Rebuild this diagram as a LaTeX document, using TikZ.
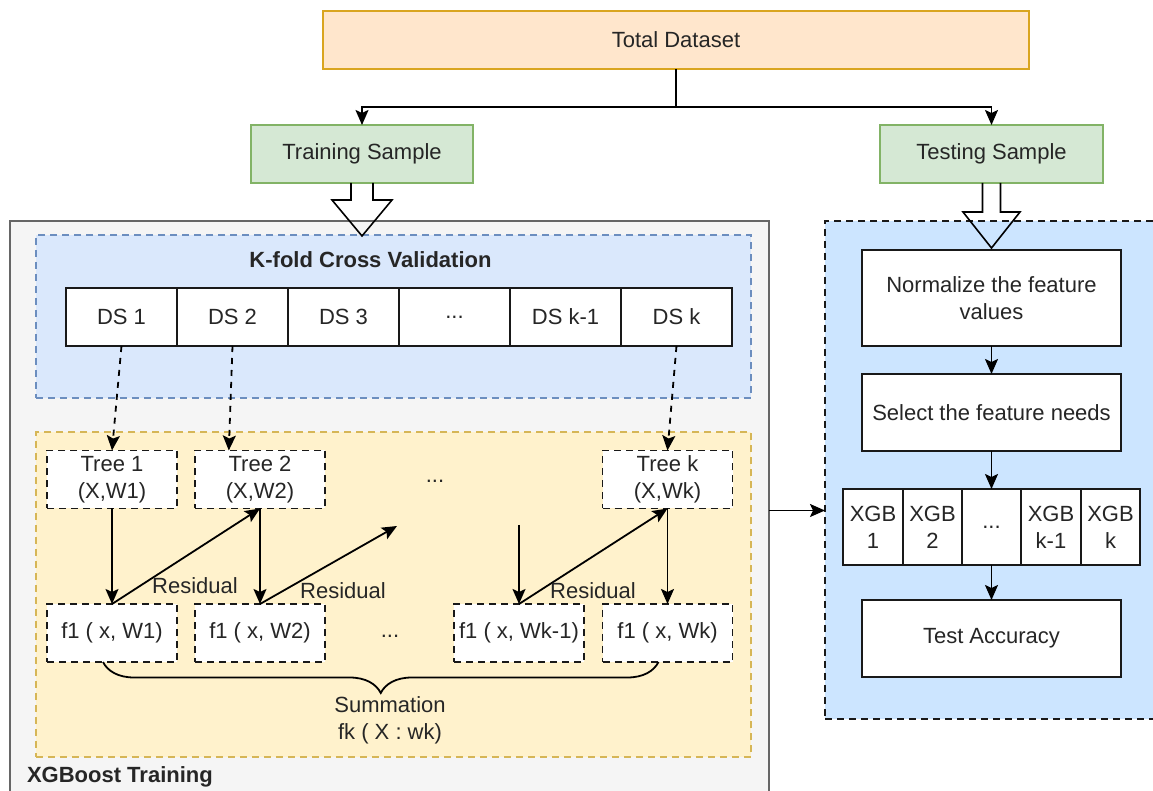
\documentclass[tikz,border=0pt]{standalone}
\usepackage{fontspec}
\setmainfont{Liberation Sans}
\usepackage{xcolor}
\usetikzlibrary{positioning,calc,arrows.meta,decorations.pathreplacing}

\definecolor{peachfill}{HTML}{FFE6CC}
\definecolor{peachline}{HTML}{D9A520}
\definecolor{greenfill}{HTML}{D5E8D4}
\definecolor{greenline}{HTML}{82B366}
\definecolor{grayfill}{HTML}{F5F5F5}
\definecolor{grayline}{HTML}{666666}
\definecolor{bluefill}{HTML}{DAE8FC}
\definecolor{blueline}{HTML}{6C8EBF}
\definecolor{yellowfill}{HTML}{FFF2CC}
\definecolor{yellowline}{HTML}{D6B656}
\definecolor{testfill}{HTML}{CCE5FF}

\begin{document}
\begin{tikzpicture}[x=0.5pt,y=-0.5pt,
  every node/.style={font=\fontsize{11}{13.5}\selectfont, text=black!85, align=center, inner sep=0pt, outer sep=0pt},
  boldlabel/.style={font=\fontsize{11}{13.5}\selectfont\bfseries},
  dashbox/.style={dash pattern=on 3.5pt off 2.5pt, line width=0.8pt},
  cell/.style={draw=black!90, fill=white, line width=0.9pt},
  treebox/.style={cell, dashbox, minimum width=65pt, minimum height=29pt},
  arr/.style={-{Stealth[length=7.5pt,width=6.5pt,inset=1.5pt]}, line width=0.9pt, black},
  hollow/.style={line width=0.8pt, black, line join=miter}]
  \useasboundingbox (0,0) rectangle (1153,791);

  % Containers
  \node[fill=grayfill, draw=grayline, line width=0.8pt, minimum width=379.5pt, minimum height=289.5pt] (trainbox) at (389.5,510.5) {};
  \node[fill=bluefill, draw=blueline, dashbox, minimum width=357.5pt, minimum height=81.5pt] (kfold) at (393.5,316.5) {};
  \node[fill=yellowfill, draw=yellowline, dashbox, minimum width=357.5pt, minimum height=162.5pt] (xgbbox) at (393.5,594.5) {};
  \node[fill=testfill, draw=black!90, dashbox, minimum width=167.5pt, minimum height=249pt] (testbox) at (992.5,470) {};

  % Top: dataset split
  \node[fill=peachfill, draw=peachline, line width=0.8pt, minimum width=353pt, minimum height=29pt] (total) at (676,40) {Total Dataset};
  \node[fill=greenfill, draw=greenline, line width=0.8pt, minimum width=111pt, minimum height=29pt] (train) at (362,154) {Training Sample};
  \node[fill=greenfill, draw=greenline, line width=0.8pt, minimum width=111.5pt, minimum height=29pt] (test) at (991.5,154) {Testing Sample};
  \coordinate (split) at ($(total.south)+(0,38)$);
  \draw[line width=0.9pt] (total.south) -- (split);
  \draw[arr] (split) -| (train.north);
  \draw[arr] (split) -| (test.north);

  % K-fold cross validation
  \node[boldlabel] (kftitle) at (370.5,260) {K-fold Cross Validation};
  \node[cell, minimum width=55.5pt, minimum height=29pt] (ds1) at (121.5,317) {DS 1};
  \node[cell, minimum width=55.5pt, minimum height=29pt] (ds2) at (232.5,317) {DS 2};
  \node[cell, minimum width=55.5pt, minimum height=29pt] (ds3) at (343.5,317) {DS 3};
  \node[cell, minimum width=55.5pt, minimum height=29pt] (ds4) at (454.5,317) {...};
  \node[cell, minimum width=55.5pt, minimum height=29pt] (ds5) at (565.5,317) {DS k-1};
  \node[cell, minimum width=55.5pt, minimum height=29pt] (ds6) at (676.5,317) {DS k};

  % Trees and their outputs
  \node[treebox] (ta) at (112,479.5) {Tree 1\\(X,W1)};
  \node[treebox] (tb) at (260,479.5) {Tree 2\\(X,W2)};
  \node[treebox] (tk) at (667.5,479.5) {Tree k\\(X,Wk)};
  \node (tdots) at (435,481) {...};
  \node[treebox] (fa) at (112,633) {f1 ( x, W1)};
  \node[treebox] (fb) at (260,633) {f1 ( x, W2)};
  \node[treebox] (fk1) at (519,633) {f1 ( x, Wk-1)};
  \node[treebox] (fk) at (667.5,633) {f1 ( x, Wk)};
  \node (fdots) at (390,636) {...};

  % Folds feed the trees
  \draw[arr, dashed] (ds1.south) -- (ta.north);
  \draw[arr, dashed] (ds2.south) -- ($(tb.north west)!0.26!(tb.north east)$);
  \draw[arr, dashed] (ds6.south) -- (tk.north);

  % Tree to output, residual to next tree
  \coordinate (gapa) at (397,526);
  \coordinate (gapb) at (519,525);
  \draw[arr] (ta.south) -- (fa.north);
  \draw[arr] (tb.south) -- (fb.north);
  \draw[arr] (tk.south) -- (fk.north);
  \draw[arr] (gapb) -- (fk1.north);
  \draw[arr] (fa.north) -- (tb.south);
  \draw[arr] (fb.north) -- (gapa);
  \draw[arr] (fk1.north) -- (tk.south);
  \node (res1) at (195,586) {Residual};
  \node (res2) at (343,591) {Residual};
  \node (res3) at (593,591) {Residual};

  % Summation brace
  \draw[decorate, decoration={brace, mirror, amplitude=15.5pt}, line width=0.9pt] ($(fa.south)+(-9,0)$) -- ($(fk.south)+(-9,0)$);
  \node (sum) at (390,720) {Summation\\fk ( X : wk)};
  \node[boldlabel, anchor=west] (xgbtitle) at (27,777) {XGBoost Training};

  % Testing pipeline
  \node[cell, minimum width=129.5pt, minimum height=48pt] (norm) at (991.5,298) {Normalize the feature\\values};
  \node[cell, minimum width=129.5pt, minimum height=38.5pt] (sel) at (991.5,412.5) {Select the feature needs};
  \node[cell, minimum width=29.7pt, minimum height=38pt] (xg1) at (873,527) {XGB\\1};
  \node[cell, minimum width=29.7pt, minimum height=38pt] (xg2) at (932.5,527) {XGB\\2};
  \node[cell, minimum width=29.7pt, minimum height=38pt] (xg3) at (991.5,527) {...};
  \node[cell, minimum width=29.7pt, minimum height=38pt] (xg4) at (1051,527) {XGB\\k-1};
  \node[cell, minimum width=29.7pt, minimum height=38pt] (xg5) at (1110.5,527) {XGB\\k};
  \node[cell, minimum width=129.5pt, minimum height=38.5pt] (acc) at (991.5,638.5) {Test Accuracy};
  \draw[arr] (norm.south) -- (sel.north);
  \draw[arr] (sel.south) -- (xg3.north);
  \draw[arr] (xg3.south) -- (acc.north);
  \draw[arr] (trainbox.east) -- (trainbox.east -| testbox.west);

  % Hollow block arrows
  \draw[hollow] ($(train.south)+(-11,0)$) -- ++(0,17) -- ++(-19,0) -- ($(train.south)+(0,53)$)
    -- ($(train.south)+(30,17)$) -- ++(-19,0) -- ($(train.south)+(11,0)$);
  \draw[hollow] ($(test.south)+(-9,0)$) -- ++(0,29) -- ++(-19.5,0) -- ($(test.south)+(0,65)$)
    -- ($(test.south)+(28.5,29)$) -- ++(-19.5,0) -- ($(test.south)+(9,0)$);
\end{tikzpicture}
\end{document}
